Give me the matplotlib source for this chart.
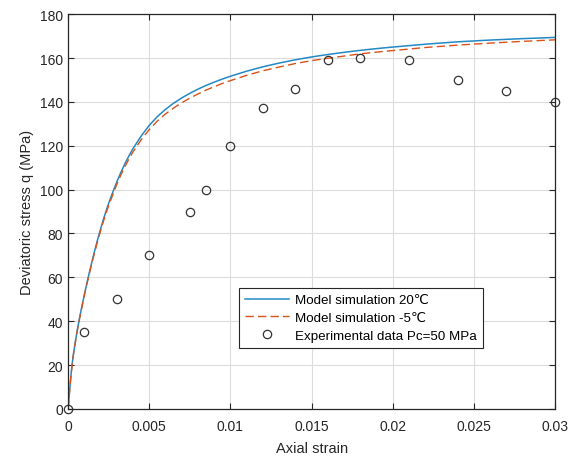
import numpy as np
import matplotlib
matplotlib.use("Agg")
import matplotlib.pyplot as plt

plt.rcParams['font.family'] = ['Liberation Sans', 'DejaVu Sans']

# model curves
strain_model = [0, 0.0001, 0.0002, 0.0003, 0.0004, 0.0005, 0.0006, 0.0007, 0.0008, 0.0009,
                0.001, 0.0012, 0.0014, 0.0016, 0.0018, 0.002, 0.0022, 0.0024, 0.0026, 0.0028,
                0.003, 0.00325, 0.0035, 0.00375, 0.004, 0.0045, 0.005, 0.0055, 0.006, 0.0065,
                0.007, 0.0075, 0.008, 0.0085, 0.009, 0.0095, 0.01, 0.011, 0.012, 0.013,
                0.014, 0.015, 0.016, 0.017, 0.018, 0.019, 0.02, 0.022, 0.024, 0.026,
                0.028, 0.03]
q_20C = [0, 9, 17, 23.5, 28.5, 33, 37.3, 41.2, 44.9, 48.5,
         52, 58.7, 65.0, 71.0, 76.7, 82.0, 87.0, 91.6, 95.8, 99.7,
         103.5, 107.8, 111.8, 115.4, 118.7, 124.4, 129.3, 133.3, 136.6, 139.4,
         141.8, 143.9, 145.8, 147.5, 149.0, 150.4, 151.7, 154.0, 156.0, 157.7,
         159.2, 160.5, 161.6, 162.6, 163.5, 164.3, 165.0, 166.3, 167.4, 168.2,
         168.85, 169.4]
q_m5C = [0, 8.8, 16.7, 23.2, 28.2, 32.7, 37.0, 40.9, 44.6, 48.2,
         51.7, 58.3, 64.5, 70.4, 76.0, 81.2, 86.1, 90.6, 94.7, 98.5,
         102.4, 106.6, 110.5, 114.0, 117.2, 122.7, 127.4, 131.3, 134.5, 137.2,
         139.6, 141.7, 143.6, 145.4, 146.9, 148.4, 149.7, 152.1, 154.2, 155.9,
         157.5, 158.8, 159.9, 160.9, 161.9, 162.7, 163.4, 164.8, 165.9, 166.8,
         167.6, 168.3]

# experimental data
strain_exp = [0, 0.001, 0.003, 0.005, 0.0075, 0.0085, 0.01, 0.012, 0.014, 0.016,
              0.018, 0.021, 0.024, 0.027, 0.03]
q_exp = [0, 35, 50, 70, 90, 100, 120, 137, 146, 159, 160, 159, 150, 145, 140]

fig = plt.figure(figsize=(5.77, 4.6), dpi=100)
ax = fig.add_axes([0.118, 0.109, 0.844, 0.858])

ax.plot(strain_model, q_20C, color='#2389c4', lw=1.1, label='Model simulation 20\u2103')
ax.plot(strain_model, q_m5C, color='#d95319', lw=1.0, ls=(0, (6, 3)),
        label='Model simulation -5\u2103')
ax.plot(strain_exp, q_exp, 'o', ms=6, mfc='none', mec='#333333', mew=0.9,
        label='Experimental data Pc=50 MPa', clip_on=False)

ax.set_xlim(0, 0.03)
ax.set_ylim(0, 180)
ax.set_xticks([0, 0.005, 0.01, 0.015, 0.02, 0.025, 0.03])
ax.set_xticklabels(['0', '0.005', '0.01', '0.015', '0.02', '0.025', '0.03'])
ax.set_yticks(np.arange(0, 181, 20))

ax.grid(True, color='#dcdcdc', lw=0.8)
ax.set_axisbelow(True)
ax.tick_params(direction='in', top=True, right=True, labelsize=10,
               colors='#262626', length=4, width=0.8)
ax.tick_params(axis='x', pad=7.5)
for s in ax.spines.values():
    s.set_color('#262626')
    s.set_linewidth(0.9)

ax.set_xlabel('Axial strain', fontsize=10.5, color='#262626', labelpad=5.5)
ax.set_ylabel('Deviatoric stress q (MPa)', fontsize=10.5, color='#262626', labelpad=4)

leg = ax.legend(loc='lower left', bbox_to_anchor=(0.351, 0.154), fontsize=9.6,
                handlelength=3.3, handletextpad=0.45, borderpad=0.45,
                labelspacing=0.42, fancybox=False, framealpha=1, borderaxespad=0)
leg.get_frame().set_edgecolor('#262626')
leg.get_frame().set_linewidth(0.8)

fig.savefig('out.png', dpi=100)
